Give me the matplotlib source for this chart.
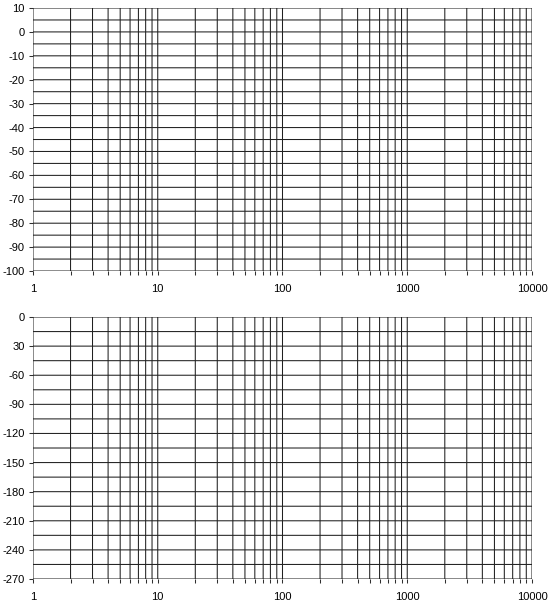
import matplotlib
matplotlib.use("Agg")
import matplotlib.pyplot as plt
from matplotlib.ticker import FixedLocator, NullLocator

plt.rcParams['font.family'] = ['Liberation Sans', 'DejaVu Sans']

# Axis data
freq_min, freq_max = 1, 10000
freq_ticks = [1, 10, 100, 1000, 10000]
freq_labels = ['1', '10', '100', '1000', '10000']
freq_grid = [m * 10 ** d for d in range(4) for m in range(1, 10)] + [10000]

mag_ticks = [10, 0, -10, -20, -30, -40, -50, -60, -70, -80, -90, -100]
mag_labels = ['10', '0', '-10', '-20', '-30', '-40', '-50', '-60', '-70', '-80', '-90', '-100']
mag_grid = list(range(10, -101, -5))

phase_ticks = [0, -30, -60, -90, -120, -150, -180, -210, -240, -270]
phase_labels = ['0', '30', '-60', '-90', '-120', '-150', '-180', '-210', '-240', '-270']
phase_grid = list(range(0, -271, -15))

fig = plt.figure(figsize=(5.48, 6.02), dpi=100)
ax1 = fig.add_axes([0.0602, 0.5498, 0.9106, 0.4369])
ax2 = fig.add_axes([0.0602, 0.0382, 0.9106, 0.4352])

def setup(ax, yticks, ylabels, ygrid):
    ax.set_xscale('log')
    ax.set_xlim(freq_min, freq_max)
    ax.set_ylim(min(yticks), max(yticks))
    for s in ax.spines.values():
        s.set_visible(False)
    # no snapping so lines blur like the original rendering
    for x in freq_grid:
        ax.axvline(x, color='#202020', lw=0.75, zorder=1, snap=False)
    for y in ygrid:
        ax.axhline(y, color='#202020', lw=0.75, zorder=1, snap=False)
    ax.xaxis.set_major_locator(FixedLocator(freq_grid))
    ax.xaxis.set_minor_locator(NullLocator())
    ax.set_xticklabels([freq_labels[freq_ticks.index(x)] if x in freq_ticks else '' for x in freq_grid])
    ax.set_yticks(yticks)
    ax.set_yticklabels(ylabels)
    ax.tick_params(axis='both', length=3, width=0.75, color='#303030', labelsize=8, pad=3)
    ax.tick_params(axis='x', pad=6)

setup(ax1, mag_ticks, mag_labels, mag_grid)
setup(ax2, phase_ticks, phase_labels, phase_grid)

fig.savefig('out.png', dpi=100)
